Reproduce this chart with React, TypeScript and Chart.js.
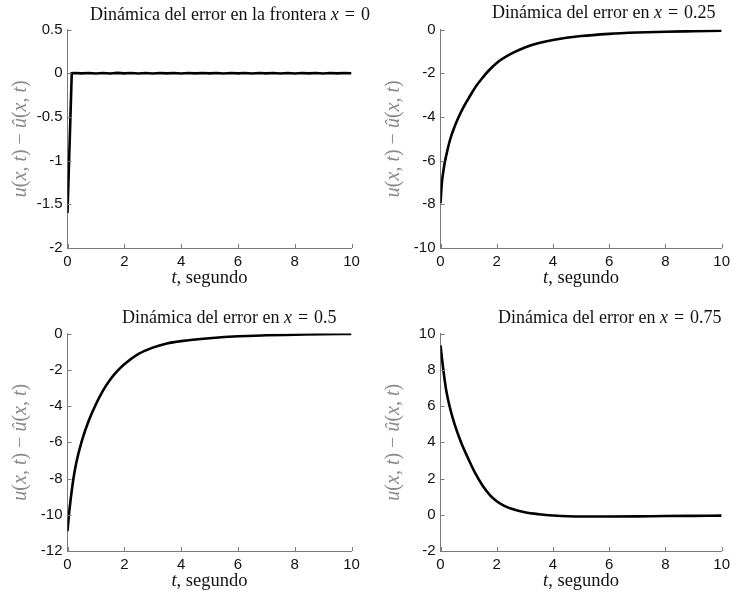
import React, { useEffect, useRef } from 'react';
import { Chart, registerables } from 'chart.js';
Chart.register(...registerables);

const W = 735;
const H = 598;

// ---------- data ----------
const xTicks = [0, 2, 4, 6, 8, 10];

const t0 = [0, 0.15, 0.25, 0.5, 0.75, 1, 1.25, 1.5, 1.75, 2, 2.25, 2.5, 2.75, 3, 3.25, 3.5, 3.75, 4, 4.25, 4.5, 4.75, 5, 5.25, 5.5, 5.75, 6, 6.25, 6.5, 6.75, 7, 7.25, 7.5, 7.75, 8, 8.25, 8.5, 8.75, 9, 9.25, 9.5, 9.75, 10];
const e0 = [-1.6, 0.0, 0.003, -0.002, 0.003, -0.003, 0.002, -0.003, 0.004, -0.002, 0.003, -0.003, 0.002, -0.003, 0.003, -0.002, 0.003, -0.003, 0.002, -0.002, 0.003, -0.002, 0.003, -0.003, 0.002, -0.002, 0.003, -0.003, 0.003, -0.002, 0.003, -0.003, 0.002, -0.003, 0.003, -0.002, 0.003, -0.003, 0.002, -0.002, 0.003, 0.0];
const yTicks0 = [-2, -1.5, -1, -0.5, 0, 0.5];

const t25 = [0, 0.05, 0.1, 0.15, 0.25, 0.35, 0.5, 0.63, 0.8, 1, 1.25, 1.5, 1.7, 2, 2.5, 3, 3.5, 4, 5, 6, 7, 8, 9, 10];
const e25 = [-7.95, -7.0, -6.5, -6.1, -5.5, -5.0, -4.45, -4.05, -3.6, -3.15, -2.62, -2.2, -1.9, -1.53, -1.12, -0.82, -0.62, -0.48, -0.3, -0.2, -0.14, -0.1, -0.08, -0.06];
const yTicks25 = [-10, -8, -6, -4, -2, 0];

const t50 = [0, 0.05, 0.1, 0.2, 0.3, 0.5, 0.75, 1, 1.25, 1.5, 1.75, 2, 2.5, 3, 3.5, 4, 5, 6, 7, 8, 9, 10];
const e50 = [-10.9, -10.0, -9.3, -8.1, -7.2, -5.95, -4.8, -3.9, -3.15, -2.55, -2.08, -1.7, -1.13, -0.78, -0.55, -0.42, -0.26, -0.15, -0.1, -0.07, -0.04, -0.02];
const yTicks50 = [-12, -10, -8, -6, -4, -2, 0];

const t75 = [0, 0.1, 0.2, 0.32, 0.5, 0.73, 1, 1.25, 1.5, 1.75, 2, 2.25, 2.5, 3, 3.5, 4, 5, 6, 7, 8, 9, 10];
const e75 = [9.35, 8.0, 6.9, 6.0, 5.0, 4.0, 3.05, 2.25, 1.6, 1.1, 0.74, 0.5, 0.34, 0.14, 0.03, -0.04, -0.1, -0.1, -0.09, -0.07, -0.06, -0.05];
const yTicks75 = [-2, 0, 2, 4, 6, 8, 10];

const titleTexts = ['Dinámica del error en la frontera', 'Dinámica del error en', 'Dinámica del error en', 'Dinámica del error en'];
const titleValues = ['0', '0.25', '0.5', '0.75'];

// ---------- styling ----------
const AXIS = '#7a7a7a';
const YLABEL = '#8a8a8a';
const SERIF = '"Liberation Serif", "Times New Roman", serif';
const SANS = '"Liberation Sans", Arial, sans-serif';
const MS = '\u2004'; // three-per-em space for math

type Seg = { s: string; i?: boolean };

function drawRich(ctx: CanvasRenderingContext2D, segs: Seg[], x: number, y: number, size: number, align: 'left' | 'center', baseline: CanvasTextBaseline) {
  const font = (it?: boolean) => `${it ? 'italic ' : ''}${size}px ${SERIF}`;
  let total = 0;
  for (const sg of segs) {
    ctx.font = font(sg.i);
    total += ctx.measureText(sg.s).width;
  }
  let cx = align === 'center' ? x - total / 2 : x;
  ctx.textAlign = 'left';
  ctx.textBaseline = baseline;
  for (const sg of segs) {
    ctx.font = font(sg.i);
    ctx.fillText(sg.s, cx, y);
    cx += ctx.measureText(sg.s).width;
  }
}

const ylabelSegs: Seg[] = [
  { s: 'u', i: true }, { s: '(' }, { s: 'x', i: true }, { s: ', ' }, { s: 't', i: true }, { s: ')' },
  { s: ' − ' },
  { s: 'û', i: true }, { s: '(' }, { s: 'x', i: true }, { s: ', ' }, { s: 't', i: true }, { s: ')' },
];
const xlabelSegs: Seg[] = [{ s: 't', i: true }, { s: ', segundo' }];

type Panel = {
  t: number[]; e: number[]; yTicks: number[]; title: string; val: string;
  area: { l: number; r: number; t: number; b: number };
  titleX: number; titleY: number; smooth: boolean;
};

const panels: Panel[] = [
  { t: t0, e: e0, yTicks: yTicks0, title: titleTexts[0], val: titleValues[0], area: { l: 67.5, r: 351.5, t: 29.5, b: 248 }, titleX: 90, titleY: 20, smooth: false },
  { t: t25, e: e25, yTicks: yTicks25, title: titleTexts[1], val: titleValues[1], area: { l: 440.5, r: 725.5, t: 29.5, b: 248 }, titleX: 492, titleY: 18, smooth: true },
  { t: t50, e: e50, yTicks: yTicks50, title: titleTexts[2], val: titleValues[2], area: { l: 67.5, r: 351.5, t: 333.5, b: 551 }, titleX: 122, titleY: 323, smooth: true },
  { t: t75, e: e75, yTicks: yTicks75, title: titleTexts[3], val: titleValues[3], area: { l: 440.5, r: 725.5, t: 333.5, b: 551 }, titleX: 498, titleY: 323, smooth: true },
];

const YW = 50;
const XH = 40;

function makeChart(canvas: HTMLCanvasElement, p: Panel) {
  const deco = {
    id: 'deco',
    afterDraw(chart: any) {
      const { ctx, chartArea: a, scales } = chart;
      ctx.save();
      ctx.strokeStyle = AXIS;
      ctx.lineWidth = 1;
      for (const v of xTicks) {
        const px = Math.round(scales.x.getPixelForValue(v)) + 0.5;
        ctx.beginPath();
        ctx.moveTo(px, a.bottom);
        ctx.lineTo(px, a.bottom - 4);
        ctx.stroke();
      }
      for (const v of p.yTicks) {
        const py = Math.round(scales.y.getPixelForValue(v)) + 0.5;
        ctx.beginPath();
        ctx.moveTo(a.left, py);
        ctx.lineTo(a.left + 4, py);
        ctx.stroke();
      }
      // title
      ctx.fillStyle = '#111';
      drawRich(ctx, [{ s: p.title + ' ' }, { s: 'x', i: true }, { s: MS + '=' + MS + p.val }], p.titleX, p.titleY, 18, 'left', 'alphabetic');
      // x label
      drawRich(ctx, xlabelSegs, (a.left + a.right) / 2, a.bottom + 35, 18.5, 'center', 'alphabetic');
      // y label
      ctx.save();
      ctx.translate(a.left - 47, (a.top + a.bottom) / 2);
      ctx.rotate(-Math.PI / 2);
      ctx.fillStyle = YLABEL;
      drawRich(ctx, ylabelSegs, 0, 0, 20, 'center', 'middle');
      ctx.restore();
      ctx.restore();
    },
  };

  const ymin = p.yTicks[0];
  const ymax = p.yTicks[p.yTicks.length - 1];

  return new Chart(canvas, {
    type: 'line',
    data: {
      datasets: [
        {
          data: p.t.map((x, i) => ({ x, y: p.e[i] })),
          borderColor: '#000',
          borderWidth: 2.6,
          pointRadius: 0,
          fill: false,
          cubicInterpolationMode: p.smooth ? 'monotone' : 'default',
          tension: 0,
        } as any,
      ],
    },
    options: {
      animation: false,
      responsive: false,
      devicePixelRatio: 1,
      layout: {
        padding: { left: p.area.l - YW, right: W - p.area.r, top: p.area.t, bottom: H - p.area.b - XH },
      },
      plugins: { legend: { display: false }, tooltip: { enabled: false }, title: { display: false } },
      scales: {
        x: {
          type: 'linear',
          min: 0,
          max: 10,
          afterBuildTicks: (s: any) => { s.ticks = xTicks.map((v) => ({ value: v })); },
          afterFit: (s: any) => { s.height = XH; },
          ticks: { callback: (v: any) => String(v), font: { family: SANS, size: 15 }, color: '#111', padding: 5, maxRotation: 0, autoSkip: false },
          grid: { drawOnChartArea: false, drawTicks: false },
          border: { color: AXIS, width: 1 },
        },
        y: {
          type: 'linear',
          min: ymin,
          max: ymax,
          afterBuildTicks: (s: any) => { s.ticks = p.yTicks.map((v) => ({ value: v })); },
          afterFit: (s: any) => { s.width = YW; },
          ticks: { callback: (v: any) => String(v), font: { family: SANS, size: 15 }, color: '#111', padding: 5, autoSkip: false },
          grid: { drawOnChartArea: false, drawTicks: false },
          border: { color: AXIS, width: 1 },
        },
      },
    } as any,
    plugins: [deco],
  });
}

export default function App() {
  const refs = [useRef<HTMLCanvasElement>(null), useRef<HTMLCanvasElement>(null), useRef<HTMLCanvasElement>(null), useRef<HTMLCanvasElement>(null)];
  useEffect(() => {
    const charts = panels.map((p, i) => makeChart(refs[i].current as HTMLCanvasElement, p));
    return () => charts.forEach((c) => c.destroy());
  }, []);
  return (
    <div style={{ position: 'absolute', left: 0, top: 0, width: W, height: H, background: '#fff' }}>
      {panels.map((_, i) => (
        <canvas key={i} ref={refs[i]} width={W} height={H} style={{ position: 'absolute', left: 0, top: 0, width: W, height: H }} />
      ))}
    </div>
  );
}
